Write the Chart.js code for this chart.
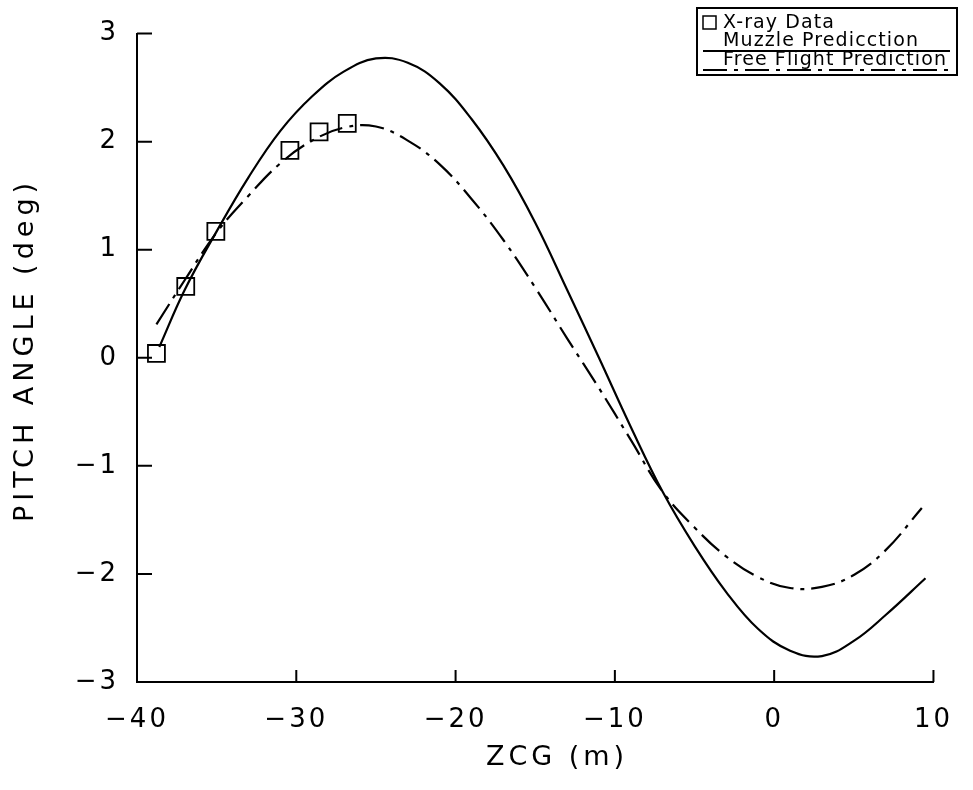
<!DOCTYPE html>
<html>
<head>
<meta charset="utf-8">
<script src="https://cdn.jsdelivr.net/npm/chart.js@4.4.0/dist/chart.umd.min.js"></script>
<style>
  html, body { margin: 0; padding: 0; background: #fff; }
</style>
</head>
<body>
<canvas id="pitchChart" width="973" height="790"></canvas>
<script>
// values
const xrayZcg = [-38.78, -36.94, -35.05, -30.4, -28.57, -26.8];
const xrayPitch = [0.04, 0.66, 1.17, 1.92, 2.09, 2.17];

const muzzleZcg = [-38.6, -37, -35, -33, -31, -29, -27, -25, -23, -21, -19, -17, -15,
  -13, -11, -9, -7, -5, -3, -1, 1, 3, 5, 7, 9.5];
const muzzlePitch = [0.10, 0.63, 1.17, 1.67, 2.10, 2.42, 2.65, 2.77, 2.73, 2.54, 2.21, 1.78, 1.25,
  0.63, 0.00, -0.64, -1.24, -1.74, -2.17, -2.51, -2.71, -2.76, -2.62, -2.38, -2.04];

const freeZcg = [-38.78, -37, -35, -33, -31, -29, -27, -25, -23, -21, -19, -17, -15,
  -13, -11, -9, -7, -5, -3, -1, 1, 3, 5, 7, 9.27];
const freePitch = [0.31, 0.72, 1.16, 1.50, 1.80, 2.01, 2.13, 2.14, 2.01, 1.79, 1.47, 1.09, 0.65,
  0.18, -0.28, -0.76, -1.24, -1.57, -1.84, -2.03, -2.13, -2.12, -2.01, -1.78, -1.39];

const xTicks = [-40, -30, -20, -10, 0, 10];
const yTicks = [-3, -2, -1, 0, 1, 2, 3];

const legendLabels = ["X-ray Data", "Muzzle Predicction", "Free Flight Prediction"];
const xTitle = "ZCG (m)";
const yTitle = "PITCH ANGLE (deg)";

const FONT = "'DejaVu Sans', 'Liberation Sans', sans-serif";
const DASH_DOT = [24, 7, 4, 7];

function pts(xs, ys) {
  return xs.map((x, i) => ({ x: x, y: ys[i] }));
}

function fmt(v) {
  return v < 0 ? "\u2212" + Math.abs(v) : String(v);
}

// wider letter spacing for the tick labels, like the plotter font
const spacing = {
  id: "spacing",
  beforeDraw(chart) {
    chart.ctx.letterSpacing = "3px";
  },
};

// ticks pointing into the plot and the two axis titles
const axisExtras = {
  id: "axisExtras",
  afterDraw(chart) {
    const c = chart.ctx;
    const xs = chart.scales.x;
    const ys = chart.scales.y;
    const area = chart.chartArea;
    c.save();
    c.strokeStyle = "#000";
    c.lineWidth = 2;
    c.beginPath();
    yTicks.forEach((v) => {
      const py = ys.getPixelForValue(v);
      c.moveTo(area.left, py);
      c.lineTo(area.left + 15, py);
    });
    xTicks.forEach((v) => {
      const px = xs.getPixelForValue(v);
      c.moveTo(px, area.bottom);
      c.lineTo(px, area.bottom - 12);
    });
    c.stroke();

    c.fillStyle = "#000";
    c.font = "27px " + FONT;
    c.textAlign = "center";
    c.textBaseline = "middle";
    c.letterSpacing = "4px";
    c.fillText(xTitle, 557, 758);
    c.letterSpacing = "5px";
    c.translate(26, 350);
    c.rotate(-Math.PI / 2);
    c.fillText(yTitle, 0, 0);
    c.restore();
  },
};

const legendBox = {
  id: "legendBox",
  afterDraw(chart) {
    const c = chart.ctx;
    const left = 697, top = 8, right = 957, bottom = 75;
    c.save();
    c.strokeStyle = "#000";
    c.fillStyle = "#000";
    c.lineWidth = 2;
    c.strokeRect(left, top, right - left, bottom - top);

    c.lineWidth = 1.5;
    c.strokeRect(703, 16, 13, 13);

    c.font = "19px " + FONT;
    c.letterSpacing = "1.1px";
    c.textBaseline = "middle";
    c.textAlign = "left";
    c.fillText(legendLabels[0], 723, 23);
    c.fillText(legendLabels[1], 723, 41);
    c.fillText(legendLabels[2], 723, 60);

    c.lineWidth = 2;
    c.beginPath();
    c.moveTo(703, 51);
    c.lineTo(950, 51);
    c.stroke();

    c.setLineDash(DASH_DOT);
    c.beginPath();
    c.moveTo(703, 70);
    c.lineTo(950, 70);
    c.stroke();
    c.restore();
  },
};

const ctx = document.getElementById("pitchChart");

new Chart(ctx, {
  type: "scatter",
  data: {
    datasets: [
      {
        label: legendLabels[1],
        data: pts(muzzleZcg, muzzlePitch),
        showLine: true,
        borderColor: "#000",
        borderWidth: 2.2,
        pointRadius: 0,
        tension: 0.4,
      },
      {
        label: legendLabels[2],
        data: pts(freeZcg, freePitch),
        showLine: true,
        borderColor: "#000",
        borderWidth: 2.2,
        borderDash: DASH_DOT,
        pointRadius: 0,
        tension: 0.4,
      },
      {
        label: legendLabels[0],
        data: pts(xrayZcg, xrayPitch),
        showLine: false,
        pointStyle: "rect",
        pointRadius: 12,
        pointBorderColor: "#000",
        pointBackgroundColor: "rgba(0,0,0,0)",
        pointBorderWidth: 1.8,
      },
    ],
  },
  options: {
    responsive: false,
    animation: false,
    layout: { padding: { top: 29, right: 18, left: 0, bottom: 0 } },
    plugins: {
      legend: { display: false },
      tooltip: { enabled: false },
    },
    scales: {
      x: {
        type: "linear",
        min: -40,
        max: 10,
        afterBuildTicks: (s) => {
          s.ticks = xTicks.map((v) => ({ value: v }));
        },
        afterFit: (s) => {
          s.height = 108;
        },
        grid: { display: false, drawTicks: false },
        border: { display: true, color: "#000", width: 2 },
        ticks: {
          padding: 23,
          color: "#000",
          font: { family: FONT, size: 26 },
          maxRotation: 0,
          callback: (v) => fmt(v),
        },
      },
      y: {
        type: "linear",
        min: -3,
        max: 3,
        afterBuildTicks: (s) => {
          s.ticks = yTicks.map((v) => ({ value: v }));
        },
        afterFit: (s) => {
          s.width = 137;
        },
        grid: { display: false, drawTicks: false },
        border: { display: true, color: "#000", width: 2 },
        ticks: {
          padding: 18,
          color: "#000",
          font: { family: FONT, size: 26 },
          callback: (v) => fmt(v),
        },
      },
    },
  },
  plugins: [spacing, axisExtras, legendBox],
});
</script>
</body>
</html>
